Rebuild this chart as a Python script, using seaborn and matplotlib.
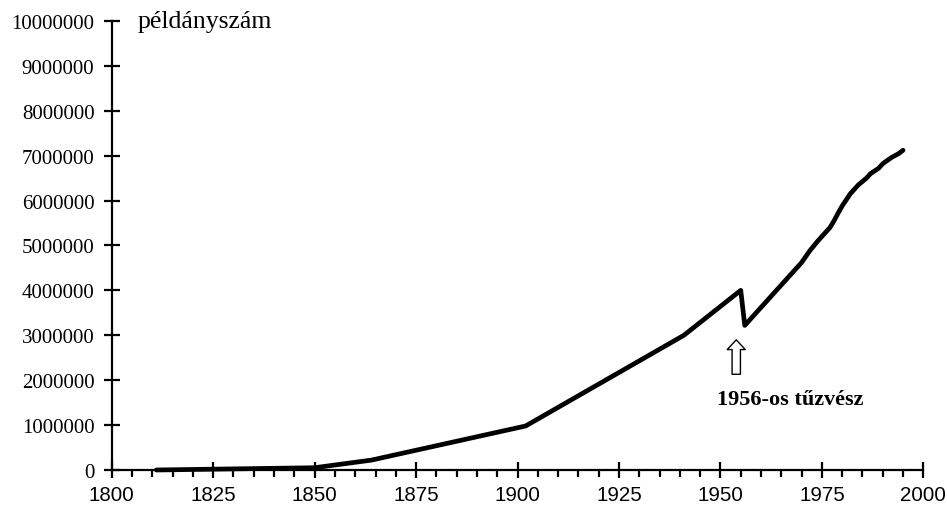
import pandas as pd
import matplotlib.pyplot as plt
import seaborn as sns

years = [1811, 1850, 1864, 1902, 1941, 1955, 1956, 1970, 1972, 1974, 1975, 1977,
         1978, 1979, 1980, 1982, 1984, 1986, 1987, 1989, 1990, 1992, 1994, 1995]
copies = [0, 50000, 220000, 980000, 3000000, 4000000, 3220000, 4620000, 4880000,
          5100000, 5200000, 5400000, 5550000, 5720000, 5880000, 6150000, 6350000,
          6500000, 6600000, 6720000, 6820000, 6950000, 7050000, 7120000]

x_ticks = [1800, 1825, 1850, 1875, 1900, 1925, 1950, 1975, 2000]
y_ticks = [0, 1000000, 2000000, 3000000, 4000000, 5000000, 6000000, 7000000,
           8000000, 9000000, 10000000]
y_tick_labels = [str(v) for v in y_ticks]

df = pd.DataFrame({"year": years, "copies": copies})

sns.set_style("ticks")
plt.rcParams["font.family"] = ["Liberation Serif", "DejaVu Serif"]
plt.rcParams["text.color"] = "black"

fig = plt.figure(figsize=(9.47, 5.10), dpi=100)
ax = fig.add_axes([0.118, 0.0765, 0.857, 0.8805])

sns.lineplot(x="year", y="copies", data=df, color="black", linewidth=3.4,
             ax=ax, clip_on=False)

ax.set_xlim(1800, 2000)
ax.set_ylim(0, 10000000)
ax.set_xticks(x_ticks)
ax.set_xticklabels([str(v) for v in x_ticks], family="Liberation Sans", fontsize=14.8)
ax.set_xticks(range(1800, 2001, 5), minor=True)
ax.set_yticks(y_ticks)
ax.set_yticklabels(y_tick_labels, fontsize=15)

ax.tick_params(axis="both", which="major", direction="inout", length=11, width=1.6,
               color="black", labelcolor="black")
ax.tick_params(axis="x", which="major", pad=5)
ax.tick_params(axis="y", which="major", pad=7)
ax.tick_params(axis="x", which="minor", direction="out", length=5, width=1.6, color="black")

sns.despine(ax=ax)
for side in ["left", "bottom"]:
    ax.spines[side].set_linewidth(1.6)
    ax.spines[side].set_color("black")

ax.set_xlabel("")
ax.set_ylabel("")

ax.text(1806.4, 10000000, "példányszám", fontsize=18.5, va="center", ha="left",
        color="black")

ax.annotate("", xy=(1953.9, 2960000), xytext=(1953.9, 2070000),
            arrowprops=dict(arrowstyle="simple,head_length=0.7,head_width=1.3,tail_width=0.6",
                            facecolor="white", edgecolor="black", linewidth=1.0))
ax.text(1967.3, 1590000, "1956-os tűzvész", fontsize=16, fontweight="bold",
        ha="center", va="center", color="black")

fig.savefig("out.png", dpi=100)
